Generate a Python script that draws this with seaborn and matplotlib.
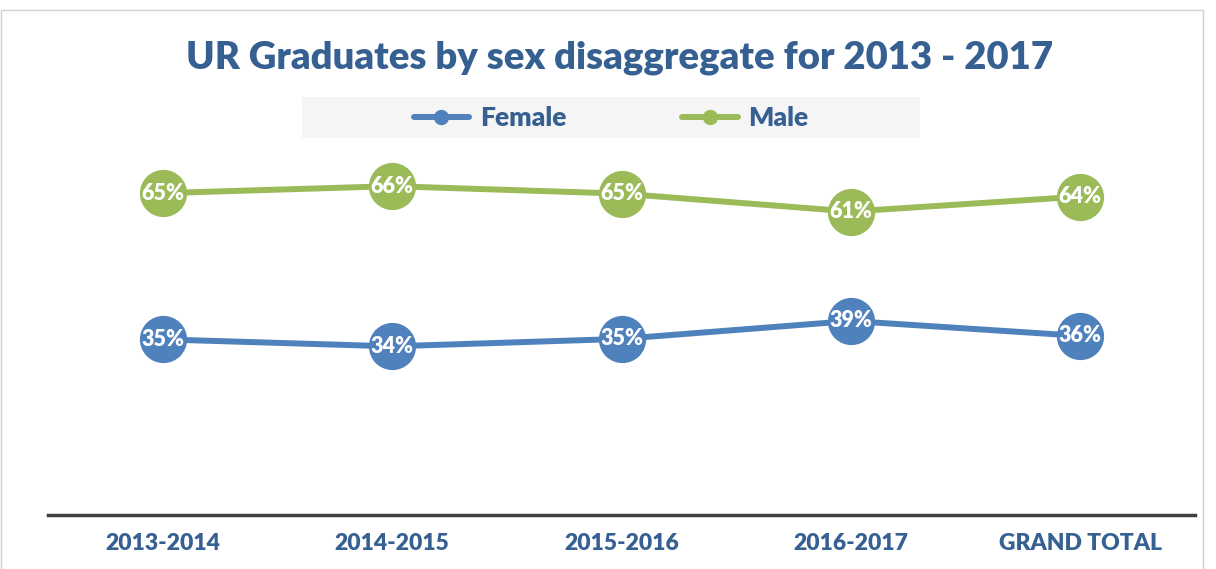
import pandas as pd
import seaborn as sns
import matplotlib.pyplot as plt
from matplotlib.lines import Line2D
from matplotlib.patches import Rectangle

years = ["2013-2014", "2014-2015", "2015-2016", "2016-2017", "GRAND TOTAL"]
female = [35.3, 33.9, 35.4, 39.0, 36.0]
male = [64.7, 66.1, 64.6, 61.0, 64.0]

blue = "#4F81BD"
green = "#9BBB59"
navy = "#376092"

df = pd.DataFrame({"year": years * 2,
                   "share": female + male,
                   "sex": ["Female"] * 5 + ["Male"] * 5})

sns.set_style("white")
plt.rcParams["font.family"] = ["Lato", "DejaVu Sans"]

fig = plt.figure(figsize=(12.16, 5.69), dpi=100)
ax = fig.add_axes([48 / 1216, 1 - 515 / 569, (1195 - 48) / 1216, (515 - 117) / 569])

sns.lineplot(data=df, x="year", y="share", hue="sex", palette=[blue, green],
             marker="o", markersize=34, linewidth=4.3, markeredgewidth=0,
             sort=False, legend=False, ax=ax)

# labels inside the markers
for vals in (female, male):
    for i, v in enumerate(vals):
        ax.text(i, v, f"{v:.0f}%", ha="center", va="center", color="white",
                fontsize=15.5, fontweight="heavy")

ax.set_xlim(-0.5, 4.5)
ax.set_ylim(0, 80)
ax.set_yticks([])
ax.set_xlabel("")
ax.set_ylabel("")
for s in ["top", "right", "left"]:
    ax.spines[s].set_visible(False)
ax.spines["bottom"].set_color("#404040")
ax.spines["bottom"].set_linewidth(2.5)
ax.tick_params(axis="x", length=0, pad=13, labelsize=16.5, labelcolor=navy)
for lbl in ax.get_xticklabels():
    lbl.set_fontweight("heavy")

fig.text(620 / 1216, 1 - 58 / 569, "UR Graduates by sex disaggregate for 2013 - 2017",
         ha="center", va="center", fontsize=27.5, fontweight="heavy", color=navy)

# legend background and outer border
fig.patches.append(Rectangle((302 / 1216, 1 - 138 / 569), 618 / 1216, 41 / 569,
                             transform=fig.transFigure, facecolor="#F5F5F5",
                             edgecolor="none", zorder=0))
fig.patches.append(Rectangle((0.5 / 1216, -0.1), 1202 / 1216, 1.1 - 10 / 569,
                             transform=fig.transFigure, facecolor="none",
                             edgecolor="#D0D0D0", linewidth=1, zorder=0))

handles = [Line2D([], [], color=blue, lw=4.3, marker="o", markersize=10),
           Line2D([], [], color=green, lw=4.3, marker="o", markersize=10)]
leg = fig.legend(handles, ["Female", "Male"], loc="center",
                 bbox_to_anchor=(611 / 1216, 1 - 118 / 569), ncol=2, frameon=False,
                 handlelength=2.1, handletextpad=0.4, columnspacing=4.4,
                 prop={"size": 19, "weight": "heavy"})
for t in leg.get_texts():
    t.set_color(navy)

plt.savefig("out.png", dpi=100)
